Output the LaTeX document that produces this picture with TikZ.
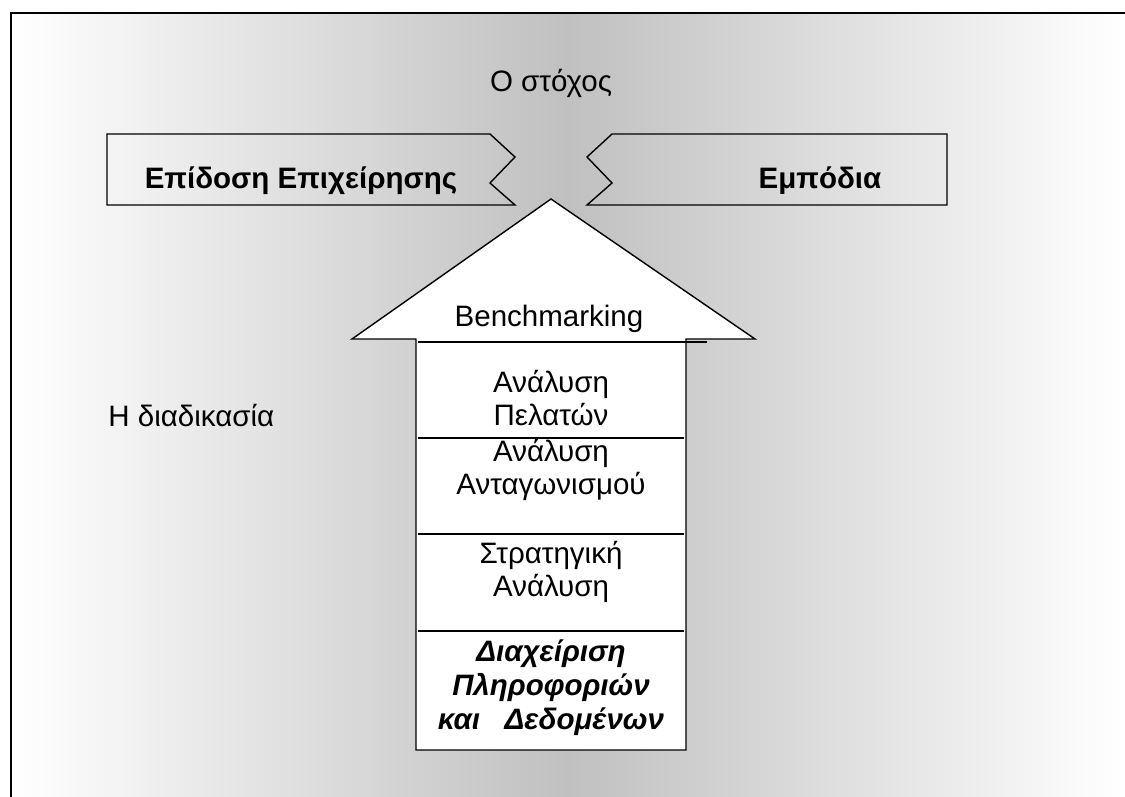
\documentclass[tikz,border=0pt]{standalone}
\usepackage{fontspec}
\setmainfont{Liberation Sans}
\usepackage{xcolor}
\definecolor{mygray}{RGB}{192,192,192}

\tikzset{
 txt/.style={font=\fontsize{16.8}{19}\selectfont, inner sep=0pt, align=center},
 bold txt/.style={txt, font=\fontsize{16.8}{19}\selectfont\bfseries},
 shape line/.style={line width=0.8pt},
}

\begin{document}
\begin{tikzpicture}[x=0.02cm, y=-0.02cm]
 \useasboundingbox (0,0) rectangle (1125,797);

 % background and frame
 \shade[left color=white, right color=white, middle color=mygray] (11,13) rectangle (1125,797);
 \draw[line width=1.2pt] (11,797) -- (11,13) -- (1125,13);

 % the two banners
 \draw[shape line] (107,134) -- (490,134) -- (515,157) -- (490,183) -- (515,205) -- (107,205) -- cycle;
 \draw[shape line] (947,134) -- (612,134) -- (587,157) -- (612,183) -- (587,205) -- (947,205) -- cycle;

 % the arrow
 \coordinate (A1) at (416,750);
 \coordinate (A2) at (416,339);
 \coordinate (A3) at (352,339);
 \coordinate (A4) at (551,199); %tip
 \coordinate (A5) at (755,339);
 \coordinate (A6) at (686,339);
 \coordinate (A7) at (686,750);
 \draw[shape line, fill=white] (A1) -- (A2) -- (A3) -- (A4) -- (A5) -- (A6) -- (A7) -- cycle;

 \draw[shape line] (418,342) -- (707,342);
 \draw[shape line] (418,438) -- (684,438);
 \draw[shape line] (418,534) -- (684,534);
 \draw[shape line] (418,631) -- (684,631);

 % texts
 \node[txt, anchor=base] (goal) at (551,92) {Ο στόχος};
 \node[bold txt, anchor=base] (perf) at (301,189) {Επίδοση Επιχείρησης};
 \node[bold txt, anchor=base] (obst) at (820,189) {Εμπόδια};
 \node[txt, anchor=base west] (process) at (108,426) {Η διαδικασία};
 \node[txt, anchor=base] (bench) at (549,326) {Benchmarking};
 \node[txt] (cust) at (551,398) {Ανάλυση\\Πελατών};
 \node[txt] (comp) at (551,470) {Ανάλυση\\Ανταγωνισμού};
 \node[txt] (strat) at (551,572) {Στρατηγική\\Ανάλυση};
 \node[txt, font=\fontsize{16.8}{19.3}\selectfont\bfseries\itshape] (data) at (551,688)
  {Διαχείριση\\Πληροφοριών\\και\ \ \ Δεδομένων};

\end{tikzpicture}
\end{document}
